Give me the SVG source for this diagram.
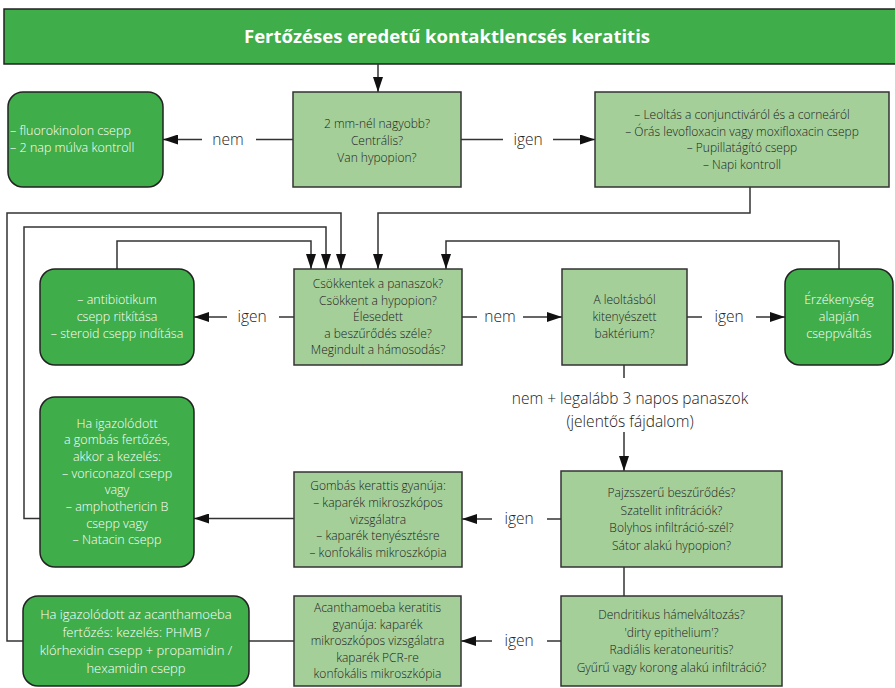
<svg xmlns="http://www.w3.org/2000/svg" width="895" height="688" viewBox="0 0 895 688">
<style>
.lite{fill:#a4cf99;stroke:#333;stroke-width:1.5}
.dark{fill:#3fad4a;stroke:#222;stroke-width:1.5}
.t{font-family:"Open Sans","Noto Sans",sans-serif;font-weight:300;font-size:12px;fill:#222;text-anchor:middle}
.w{font-family:"Open Sans","Noto Sans",sans-serif;font-weight:300;font-size:12.5px;fill:#fff;text-anchor:middle}
.lbl{font-family:"Open Sans","Noto Sans",sans-serif;font-weight:300;font-size:15.5px;fill:#222;text-anchor:middle}
.c{fill:none;stroke:#333;stroke-width:1.5}
</style>
<defs>
<marker id="ah" markerUnits="userSpaceOnUse" markerWidth="15" markerHeight="10" refX="15" refY="5" orient="auto"><path d="M0,0 L15,5 L0,10 z" fill="#111"/></marker>
</defs>
<g id="title">
<rect x="4" y="9" width="900" height="55" class="dark"/>
<text x="447" y="43" font-family="Open Sans, Noto Sans, sans-serif" font-size="17" font-weight="bold" fill="#fff" text-anchor="middle" textLength="406" lengthAdjust="spacingAndGlyphs">Fertőzéses eredetű kontaktlencsés keratitis</text>
</g>
<g id="connectors">
<path class="c" d="M378,64 V92" marker-end="url(#ah)"/>
<path class="c" d="M293,139.5 H256"/>
<path class="c" d="M202,139.5 H163" marker-end="url(#ah)"/>
<path class="c" d="M461,139.5 H503"/>
<path class="c" d="M553,139.5 H595" marker-end="url(#ah)"/>
<path class="c" d="M750,187 V213 H378 V269" marker-end="url(#ah)"/>
<path class="c" d="M117,269 V241 H311 V269" marker-end="url(#ah)"/>
<path class="c" d="M40,518.5 H24 V227 H326 V269" marker-end="url(#ah)"/>
<path class="c" d="M23,641 H7 V213 H341 V269" marker-end="url(#ah)"/>
<path class="c" d="M839,269 V241 H446 V269" marker-end="url(#ah)"/>
<path class="c" d="M294,317 H279"/>
<path class="c" d="M227,317 H194" marker-end="url(#ah)"/>
<path class="c" d="M462,317 H477"/>
<path class="c" d="M523,317 H562" marker-end="url(#ah)"/>
<path class="c" d="M687,317 H702"/>
<path class="c" d="M756,317 H785" marker-end="url(#ah)"/>
<path class="c" d="M624,365 V378"/>
<path class="c" d="M624,432 V471" marker-end="url(#ah)"/>
<path class="c" d="M561,519 H547"/>
<path class="c" d="M492,519 H462" marker-end="url(#ah)"/>
<path class="c" d="M294,518.5 H194" marker-end="url(#ah)"/>
<path class="c" d="M624,567 V596"/>
<path class="c" d="M561,641 H547"/>
<path class="c" d="M492,641 H461" marker-end="url(#ah)"/>
<path class="c" d="M294,641 H249"/>
<text class="lbl" x="228" y="144.5">nem</text>
<text class="lbl" x="528" y="144.5">igen</text>
<text class="lbl" x="252" y="322">igen</text>
<text class="lbl" x="500" y="322">nem</text>
<text class="lbl" x="729" y="322">igen</text>
<text class="lbl" x="630" y="404">nem + legalább 3 napos panaszok</text>
<text class="lbl" x="630" y="427">(jelentős fájdalom)</text>
<text class="lbl" x="519" y="524">igen</text>
<text class="lbl" x="519" y="646">igen</text>
</g>
<g id="n-size">
<rect class="lite" x="293" y="92" width="168" height="95"/>
<text class="t" x="377" y="128">2 mm-nél nagyobb?</text>
<text class="t" x="377" y="145">Centrális?</text>
<text class="t" x="377" y="162">Van hypopion?</text>
</g>
<g id="n-fluoro">
<rect class="dark" x="8" y="92" width="155" height="95" rx="15"/>
<text class="w" style="text-anchor:start" x="10" y="135">– fluorokinolon csepp</text>
<text class="w" style="text-anchor:start" x="10" y="152">– 2 nap múlva kontroll</text>
</g>
<g id="n-leoltas">
<rect class="lite" x="595" y="92" width="294" height="95"/>
<text class="t" x="742" y="119">– Leoltás a conjunctiváról és a corneáról</text>
<text class="t" x="742" y="135.5">– Órás levofloxacin vagy moxifloxacin csepp</text>
<text class="t" x="742" y="152">– Pupillatágító csepp</text>
<text class="t" x="742" y="168.5">– Napi kontroll</text>
</g>
<g id="n-antibiotikum">
<rect class="dark" x="40" y="269" width="154" height="96" rx="15"/>
<text class="w" x="117" y="304">– antibiotikum</text>
<text class="w" x="117" y="321">csepp ritkítása</text>
<text class="w" x="117" y="338">– steroid csepp indítása</text>
</g>
<g id="n-csokkentek">
<rect class="lite" x="294" y="269" width="168" height="96"/>
<text class="t" x="378" y="288">Csökkentek a panaszok?</text>
<text class="t" x="378" y="304.5">Csökkent a hypopion?</text>
<text class="t" x="378" y="321">Élesedett</text>
<text class="t" x="378" y="337.5">a beszűrődés széle?</text>
<text class="t" x="378" y="354">Megindult a hámosodás?</text>
</g>
<g id="n-bakterium">
<rect class="lite" x="562" y="269" width="125" height="96"/>
<text class="t" x="624.5" y="304">A leoltásból</text>
<text class="t" x="624.5" y="321">kitenyészett</text>
<text class="t" x="624.5" y="338">baktérium?</text>
</g>
<g id="n-erzekenyseg">
<rect class="dark" x="785" y="269" width="108" height="96" rx="15"/>
<text class="w" x="839" y="304">Érzékenység</text>
<text class="w" x="839" y="321">alapján</text>
<text class="w" x="839" y="338">cseppváltás</text>
</g>
<g id="n-gomba-kezeles">
<rect class="dark" x="40" y="397" width="154" height="170" rx="15"/>
<text class="w" x="117" y="427.5">Ha igazolódott</text>
<text class="w" x="117" y="444.2">a gombás fertőzés,</text>
<text class="w" x="117" y="460.9">akkor a kezelés:</text>
<text class="w" x="117" y="477.6">– voriconazol csepp</text>
<text class="w" x="117" y="494.3">vagy</text>
<text class="w" x="117" y="511">– amphothericin B</text>
<text class="w" x="117" y="527.7">csepp vagy</text>
<text class="w" x="117" y="544.4">– Natacin csepp</text>
</g>
<g id="n-gomba">
<rect class="lite" x="294" y="472" width="168" height="95"/>
<text class="t" x="378" y="490">Gombás kerattis gyanúja:</text>
<text class="t" x="378" y="507">– kaparék mikroszkópos</text>
<text class="t" x="378" y="523.5">vizsgálatra</text>
<text class="t" x="378" y="540">– kaparék tenyésztésre</text>
<text class="t" x="378" y="557">– konfokális mikroszkópia</text>
</g>
<g id="n-pajzs">
<rect class="lite" x="561" y="471" width="221" height="96"/>
<text class="t" x="671.5" y="497">Pajzsszerű beszűrődés?</text>
<text class="t" x="671.5" y="514.5">Szatellit infitrációk?</text>
<text class="t" x="671.5" y="532">Bolyhos infiltráció-szél?</text>
<text class="t" x="671.5" y="549.5">Sátor alakú hypopion?</text>
</g>
<g id="n-acanth-kezeles">
<rect class="dark" x="23" y="596" width="226" height="90" rx="15"/>
<text class="w" style="font-size:13px" x="136" y="618.5">Ha igazolódott az acanthamoeba</text>
<text class="w" style="font-size:13px" x="136" y="636.5">fertőzés: kezelés: PHMB /</text>
<text class="w" style="font-size:13px" x="136" y="654.5">klórhexidin csepp + propamidin /</text>
<text class="w" style="font-size:13px" x="136" y="672.5">hexamidin csepp</text>
</g>
<g id="n-acanth">
<rect class="lite" x="294" y="596" width="167" height="90"/>
<text class="t" x="377.5" y="612">Acanthamoeba keratitis</text>
<text class="t" x="377.5" y="628.5">gyanúja: kaparék</text>
<text class="t" x="377.5" y="645">mikroszkópos vizsgálatra</text>
<text class="t" x="377.5" y="661.5">kaparék PCR-re</text>
<text class="t" x="377.5" y="678">konfokális mikroszkópia</text>
</g>
<g id="n-dendritikus">
<rect class="lite" x="561" y="596" width="221" height="90"/>
<text class="t" x="671.5" y="619">Dendritikus hámelváltozás?</text>
<text class="t" x="671.5" y="636.5">'dirty epithelium'?</text>
<text class="t" x="671.5" y="654">Radiális keratoneuritis?</text>
<text class="t" x="671.5" y="671.5">Gyűrű vagy korong alakú infiltráció?</text>
</g>
</svg>
